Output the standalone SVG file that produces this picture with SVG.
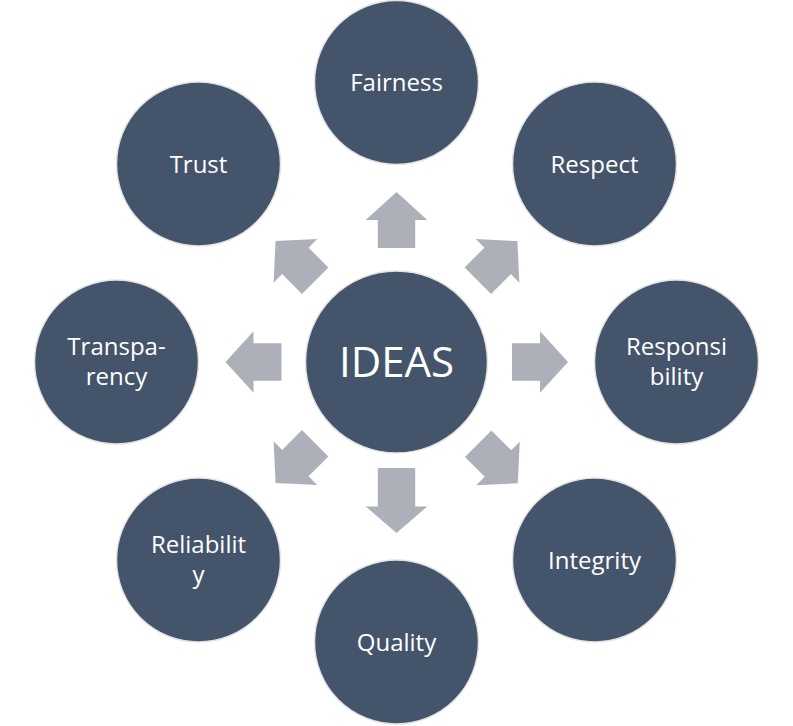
<svg xmlns="http://www.w3.org/2000/svg" xmlns:xlink="http://www.w3.org/1999/xlink" width="793" height="726" viewBox="0 0 793 726">
<style>
.node{fill:#44546A;stroke:#E4E4E4;stroke-width:1.5}
.arrow{fill:#ADB0B8}
.lbl{fill:#FFFFFF;font-family:"Open Sans","Noto Sans","Liberation Sans",sans-serif;font-size:24px;text-anchor:middle}
.big{font-size:42px}
</style>
<defs>
<polygon id="arr" points="0,-18.7 28,-18.7 28,-30.8 56,0 28,30.8 28,18.7 0,18.7"/>
<polygon id="arrLong" points="0,-18.7 38.5,-18.7 38.5,-30.8 65,0 38.5,30.8 38.5,18.7 0,18.7"/>
</defs>
<rect width="793" height="726" fill="#FFFFFF"/>
<g id="connectors" class="arrow">
<use xlink:href="#arr" transform="translate(396.5,362) rotate(-90) translate(114,0)"/>
<use xlink:href="#arr" transform="translate(396.5,362) rotate(-45) translate(115,0)"/>
<use xlink:href="#arr" transform="translate(396.5,362) rotate(0) translate(115.5,0)"/>
<use xlink:href="#arr" transform="translate(396.5,362) rotate(45) translate(115.5,0)"/>
<use xlink:href="#arrLong" transform="translate(396.5,362) rotate(90) translate(106,0)"/>
<use xlink:href="#arr" transform="translate(396.5,362) rotate(135) translate(115,0)"/>
<use xlink:href="#arr" transform="translate(396.5,362) rotate(180) translate(115,0)"/>
<use xlink:href="#arr" transform="translate(396.5,362) rotate(-135) translate(115,0)"/>
</g>
<g id="ideas">
<circle class="node" cx="396.5" cy="362" r="91"/>
<text class="lbl big" x="396.5" y="377">IDEAS</text>
</g>
<g id="fairness">
<circle class="node" cx="396.5" cy="82.5" r="82"/>
<text class="lbl" x="396.5" y="91">Fairness</text>
</g>
<g id="respect">
<circle class="node" cx="594.5" cy="164" r="82"/>
<text class="lbl" x="594.5" y="172.5">Respect</text>
</g>
<g id="responsibility">
<circle class="node" cx="676.5" cy="362" r="82"/>
<text class="lbl" x="676.5" y="355">Responsi</text>
<text class="lbl" x="676.5" y="385">bility</text>
</g>
<g id="integrity">
<circle class="node" cx="594.5" cy="560" r="82"/>
<text class="lbl" x="594.5" y="569">Integrity</text>
</g>
<g id="quality">
<circle class="node" cx="396.5" cy="642" r="82"/>
<text class="lbl" x="396.5" y="651">Quality</text>
</g>
<g id="reliability">
<circle class="node" cx="198.5" cy="560" r="82"/>
<text class="lbl" x="198.5" y="553">Reliabilit</text>
<text class="lbl" x="198.5" y="583">y</text>
</g>
<g id="transparency">
<circle class="node" cx="116.5" cy="362" r="82"/>
<text class="lbl" x="116.5" y="355">Transpa-</text>
<text class="lbl" x="116.5" y="385">rency</text>
</g>
<g id="trust">
<circle class="node" cx="198.5" cy="164" r="82"/>
<text class="lbl" x="198.5" y="172.5">Trust</text>
</g>
</svg>
